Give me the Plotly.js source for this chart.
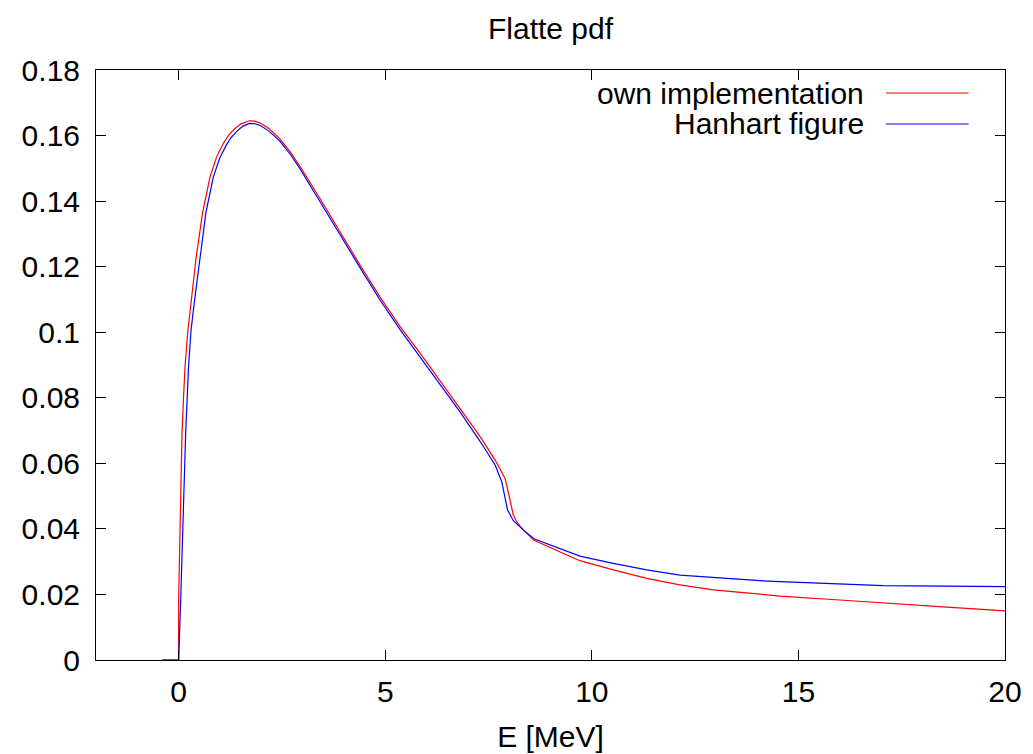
<!DOCTYPE html>
<html>
<head>
<meta charset="utf-8">
<script src="https://cdn.plot.ly/plotly-3.0.1.min.js"></script>
<style>html,body{margin:0;padding:0;background:#fff;}#chart{width:1033px;height:754px;}</style>
</head>
<body>
<div id="chart"></div>
<script>
// Data
const ownE = [-0.4, 0, 0.0, 0.034, 0.082, 0.12, 0.155, 0.22, 0.317, 0.42, 0.58, 0.76, 0.92, 1.08, 1.2, 1.35, 1.5, 1.71, 1.85, 2.0, 2.2, 2.45, 2.7, 2.94, 3.42, 3.9, 4.39, 4.87, 5.36, 5.84, 6.32, 6.81, 7.29, 7.66, 7.9, 8.0, 8.1, 8.2, 8.34, 8.6, 9.07, 9.71, 10.52, 11.33, 12.13, 12.94, 14.07, 14.55, 16.0, 17.06, 18.5, 20];
const ownPdf = [0, 0, 0.0183, 0.0387, 0.0692, 0.0805, 0.0895, 0.1000, 0.1115, 0.1225, 0.1365, 0.1474, 0.1535, 0.1576, 0.1600, 0.1620, 0.1635, 0.1645, 0.1644, 0.1637, 0.1620, 0.1590, 0.1550, 0.1505, 0.1408, 0.1307, 0.1205, 0.1108, 0.1017, 0.0937, 0.0854, 0.0768, 0.0683, 0.0610, 0.0554, 0.0500, 0.0442, 0.0418, 0.0397, 0.0365, 0.0338, 0.0303, 0.0275, 0.0249, 0.0229, 0.0214, 0.0201, 0.0195, 0.0183, 0.0175, 0.0162, 0.0150];

const hanE = [-0.4, 0, 0.05, 0.10, 0.17, 0.24, 0.30, 0.373, 0.50, 0.66, 0.84, 1.0, 1.15, 1.27, 1.4, 1.55, 1.71, 1.85, 2.0, 2.2, 2.45, 2.7, 2.94, 3.42, 3.9, 4.39, 4.87, 5.36, 5.84, 6.32, 6.81, 7.29, 7.66, 7.82, 7.96, 8.1, 8.34, 8.6, 9.27, 9.71, 10.52, 11.33, 12.13, 12.94, 14.07, 14.55, 17.06, 20];
const hanPdf = [0, 0, 0.0183, 0.0387, 0.0692, 0.0895, 0.1005, 0.1085, 0.1215, 0.1365, 0.1474, 0.1533, 0.1570, 0.1594, 0.1612, 0.1628, 0.1637, 0.1636, 0.1629, 0.1612, 0.1583, 0.1543, 0.1498, 0.1400, 0.1299, 0.1197, 0.1099, 0.1008, 0.0926, 0.0843, 0.0757, 0.0668, 0.0595, 0.0544, 0.0458, 0.0425, 0.0397, 0.0370, 0.0338, 0.0317, 0.0295, 0.0275, 0.0259, 0.0251, 0.0242, 0.0239, 0.0227, 0.0224];

const seriesNames = ["own implementation", "Hanhart figure"];
const xTickVals = [0, 5, 10, 15, 20];
const xTickText = ["0", "5", "10", "15", "20"];
const yTickVals = [0, 0.02, 0.04, 0.06, 0.08, 0.1, 0.12, 0.14, 0.16, 0.18];
const yTickText = ["0", "0.02", "0.04", "0.06", "0.08", "0.1", "0.12", "0.14", "0.16", "0.18"];

const FONT = "Liberation Sans, Arial, Helvetica, sans-serif";
const FS = 30;
const colors = ["#ff0000", "#0000ff"];

const traces = [
  {x: ownE, y: ownPdf, name: seriesNames[0], type: "scatter", mode: "lines",
   line: {color: colors[0], width: 1.2}, showlegend: false},
  {x: hanE, y: hanPdf, name: seriesNames[1], type: "scatter", mode: "lines",
   line: {color: colors[1], width: 1.2}, showlegend: false}
];

const legendY = [0.961, 0.9085];
const layout = {
  width: 1033, height: 754,
  margin: {l: 96, r: 28, t: 70, b: 94},
  paper_bgcolor: "#ffffff", plot_bgcolor: "#ffffff",
  font: {family: FONT, size: FS, color: "#000000"},
  title: {text: "Flatte pdf", font: {family: FONT, size: FS, color: "#000"},
          x: 0.5, xref: "paper", y: 1 - 28/754, yref: "container", yanchor: "middle"},
  xaxis: {
    range: [-2, 20], tickvals: xTickVals, ticktext: xTickText,
    ticks: "inside", ticklen: 10, tickwidth: 1, tickcolor: "#000",
    showline: true, linecolor: "#000", linewidth: 1, mirror: "ticks",
    showgrid: false, zeroline: false, ticklabelstandoff: 5,
    tickfont: {family: FONT, size: FS},
    title: {text: "E [MeV]", font: {family: FONT, size: FS}, standoff: 18},
    automargin: false
  },
  yaxis: {
    range: [0, 0.18], tickvals: yTickVals, ticktext: yTickText,
    ticks: "inside", ticklen: 10, tickwidth: 1, tickcolor: "#000",
    showline: true, linecolor: "#000", linewidth: 1, mirror: "ticks",
    showgrid: false, zeroline: false, ticklabelstandoff: 9,
    tickfont: {family: FONT, size: FS},
    automargin: false
  },
  annotations: seriesNames.map((n, i) => ({
    text: n, xref: "paper", yref: "paper", x: 0.847, y: legendY[i],
    xanchor: "right", yanchor: "middle", showarrow: false,
    font: {family: FONT, size: FS, color: "#000"}
  })),
  shapes: seriesNames.map((n, i) => ({
    type: "line", xref: "paper", yref: "paper",
    x0: 0.869, x1: 0.960, y0: legendY[i], y1: legendY[i],
    line: {color: colors[i], width: 1.2}
  })),
  showlegend: false
};

Plotly.newPlot("chart", traces, layout, {displayModeBar: false, staticPlot: true});
</script>
</body>
</html>
